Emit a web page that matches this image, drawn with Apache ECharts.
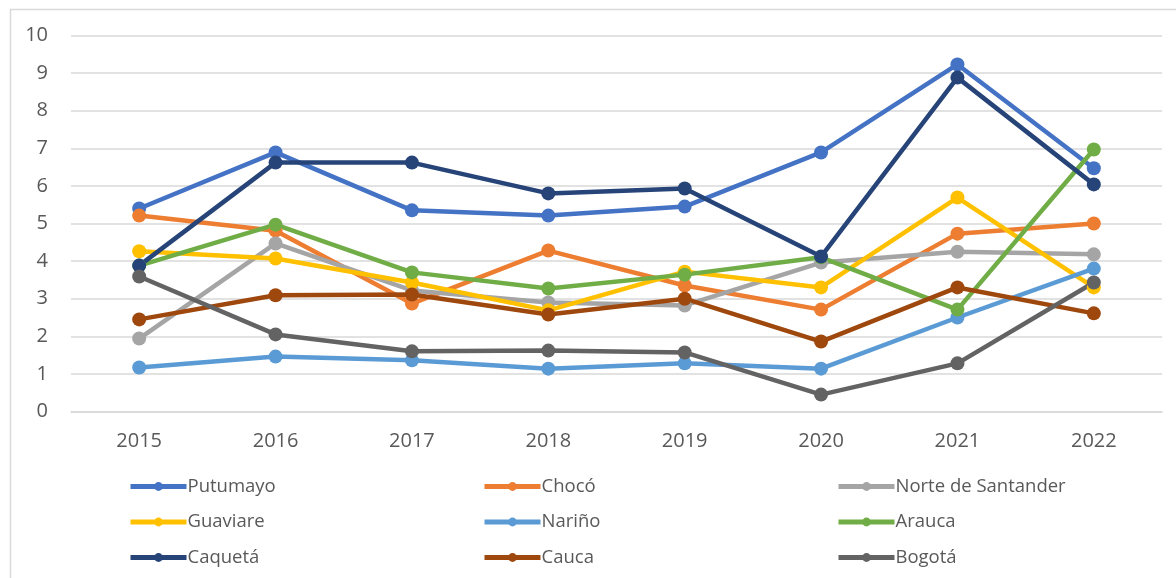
<!DOCTYPE html>
<html>
<head>
<meta charset="utf-8">
<script src="https://cdn.jsdelivr.net/npm/echarts@6/dist/echarts.min.js"></script>
<style>html,body{margin:0;padding:0;background:#fff}#c{width:1176px;height:578px}</style>
</head>
<body>
<div id="c"></div>
<script>
var years = ['2015','2016','2017','2018','2019','2020','2021','2022'];
var putumayo = [5.40, 6.89, 5.35, 5.21, 5.45, 6.89, 9.23, 6.47];
var choco = [5.21, 4.81, 2.87, 4.28, 3.35, 2.71, 4.73, 5.00];
var norteSantander = [1.94, 4.47, 3.22, 2.90, 2.82, 3.96, 4.25, 4.18];
var guaviare = [4.26, 4.07, 3.43, 2.69, 3.72, 3.30, 5.69, 3.30];
var narino = [1.17, 1.46, 1.36, 1.14, 1.28, 1.14, 2.50, 3.80];
var arauca = [3.88, 4.97, 3.70, 3.27, 3.64, 4.10, 2.71, 6.97];
var caqueta = [3.88, 6.62, 6.62, 5.80, 5.93, 4.12, 8.88, 6.04];
var cauca = [2.45, 3.09, 3.11, 2.58, 3.00, 1.86, 3.30, 2.61];
var bogota = [3.59, 2.05, 1.60, 1.62, 1.57, 0.45, 1.28, 3.43];

var names = ['Putumayo','Chocó','Norte de Santander','Guaviare','Nariño','Arauca','Caquetá','Cauca','Bogotá'];
var values = [putumayo, choco, norteSantander, guaviare, narino, arauca, caqueta, cauca, bogota];
var colors = ['#4472C4','#ED7D31','#A5A5A5','#FFC000','#5B9BD5','#70AD47','#264478','#9E480E','#636363'];

var series = names.map(function(n, i){
  return {
    name: n, type: 'line', data: values[i],
    symbol: 'circle', symbolSize: 14,
    lineStyle: {width: 4.5, color: colors[i]},
    itemStyle: {color: colors[i]},
    emphasis: {disabled: true},
    animation: false
  };
});

function legendCol(items, left){
  return {
    orient: 'vertical', left: left, top: 472,
    itemWidth: 56, itemHeight: 11, itemGap: 16.5,
    data: items,
    lineStyle: {width: 5},
    textStyle: {fontFamily: 'Open Sans', fontSize: 18.5, color: '#595959', padding: [0,0,0,-4]},
    selectedMode: false
  };
}

var chart = echarts.init(document.getElementById('c'));
chart.setOption({
  backgroundColor: '#fff',
  color: colors,
  animation: false,
  graphic: [{
    type: 'rect', left: 8, top: 7, silent: true, z: -10,
    shape: {width: 1250, height: 650},
    style: {fill: 'none', stroke: '#d9d9d9', lineWidth: 1.5}
  }],
  grid: {left: 71, right: 14, top: 35.5, bottom: 166.5},
  legend: [
    legendCol(['Putumayo','Guaviare','Caquetá'], 123),
    legendCol(['Chocó','Nariño','Cauca'], 477),
    legendCol(['Norte de Santander','Arauca','Bogotá'], 831)
  ],
  xAxis: {
    type: 'category', data: years, boundaryGap: true,
    axisLine: {show: true, lineStyle: {color: '#d9d9d9', width: 1.5}},
    axisTick: {show: false},
    axisLabel: {fontFamily: 'Open Sans', fontSize: 20, color: '#595959', margin: 20}
  },
  yAxis: {
    type: 'value', min: 0, max: 10, interval: 1,
    axisLine: {show: false}, axisTick: {show: false},
    splitLine: {lineStyle: {color: '#d9d9d9', width: 1.5}},
    axisLabel: {fontFamily: 'Open Sans', fontSize: 20, color: '#595959', margin: 23}
  },
  series: series
});
</script>
</body>
</html>
